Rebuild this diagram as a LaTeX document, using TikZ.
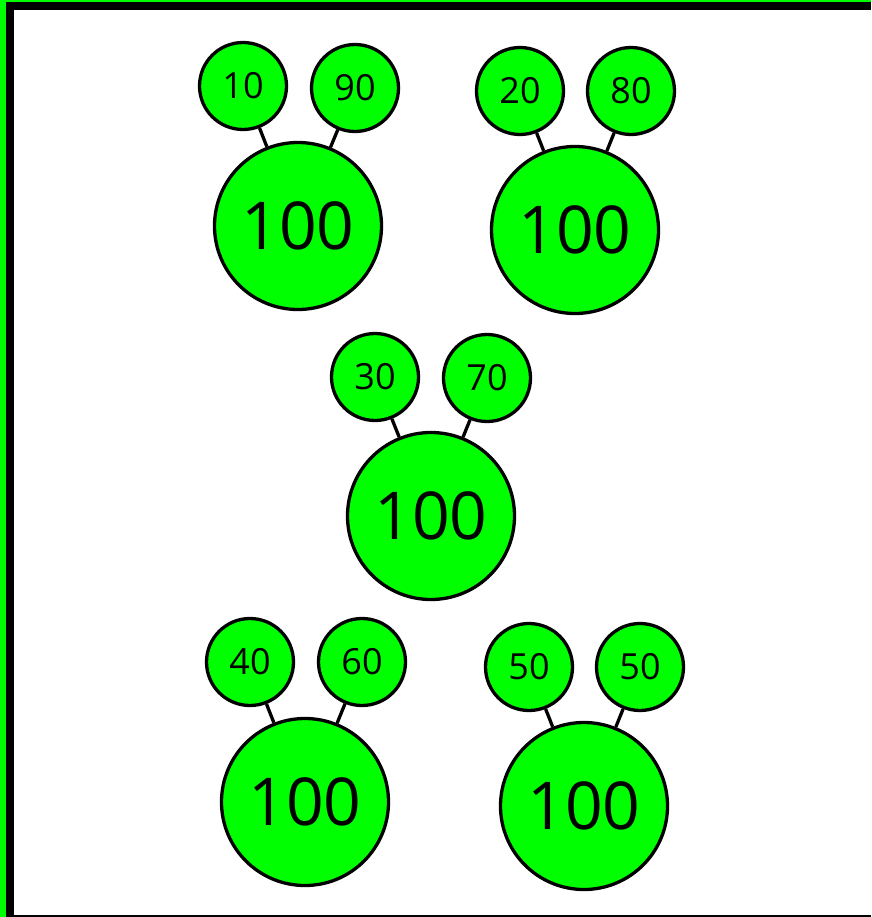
\documentclass[tikz,border=0pt]{standalone}
\usepackage{fontspec}
\setmainfont{Open Sans}
\definecolor{bondgreen}{RGB}{0,255,0}
\begin{document}
\begin{tikzpicture}[x=1pt, y=-1pt,
    part/.style={circle, draw, line width=3.3pt, fill=bondgreen, minimum size=87pt, inner sep=0pt, font=\fontsize{36}{36}\selectfont},
    whole/.style={circle, draw, line width=3.3pt, fill=bondgreen, minimum size=167pt, inner sep=0pt, font=\fontsize{66}{66}\selectfont},
    link/.style={line width=3.3pt}
]
\useasboundingbox (0,0) rectangle (871,917);
% frame
\fill[bondgreen] (0,0) rectangle (871,2);
\fill[bondgreen] (0,0) rectangle (6,917);
\fill (6,2) rectangle (871,10);
\fill (6,2) rectangle (14,917);
\fill (14,915) rectangle (871,917);

\node[part] at (243,86) (a1) {10};
\node[part] at (355,88) (b1) {90};
\node[whole] at (298,226) (w1) {100};

\node[part] at (520,91) (a2) {20};
\node[part] at (631,91) (b2) {80};
\node[whole] at (575,230) (w2) {100};

\node[part] at (375,377) (a3) {30};
\node[part] at (487,378) (b3) {70};
\node[whole] at (431,516) (w3) {100};

\node[part] at (250,662) (a4) {40};
\node[part] at (362,662) (b4) {60};
\node[whole] at (305,802) (w4) {100};

\node[part] at (529,667) (a5) {50};
\node[part] at (640,667) (b5) {50};
\node[whole] at (584,806) (w5) {100};

\foreach \i in {1,...,5} {
    \draw[link] (a\i) -- (w\i);
    \draw[link] (b\i) -- (w\i);
}
\end{tikzpicture}
\end{document}
